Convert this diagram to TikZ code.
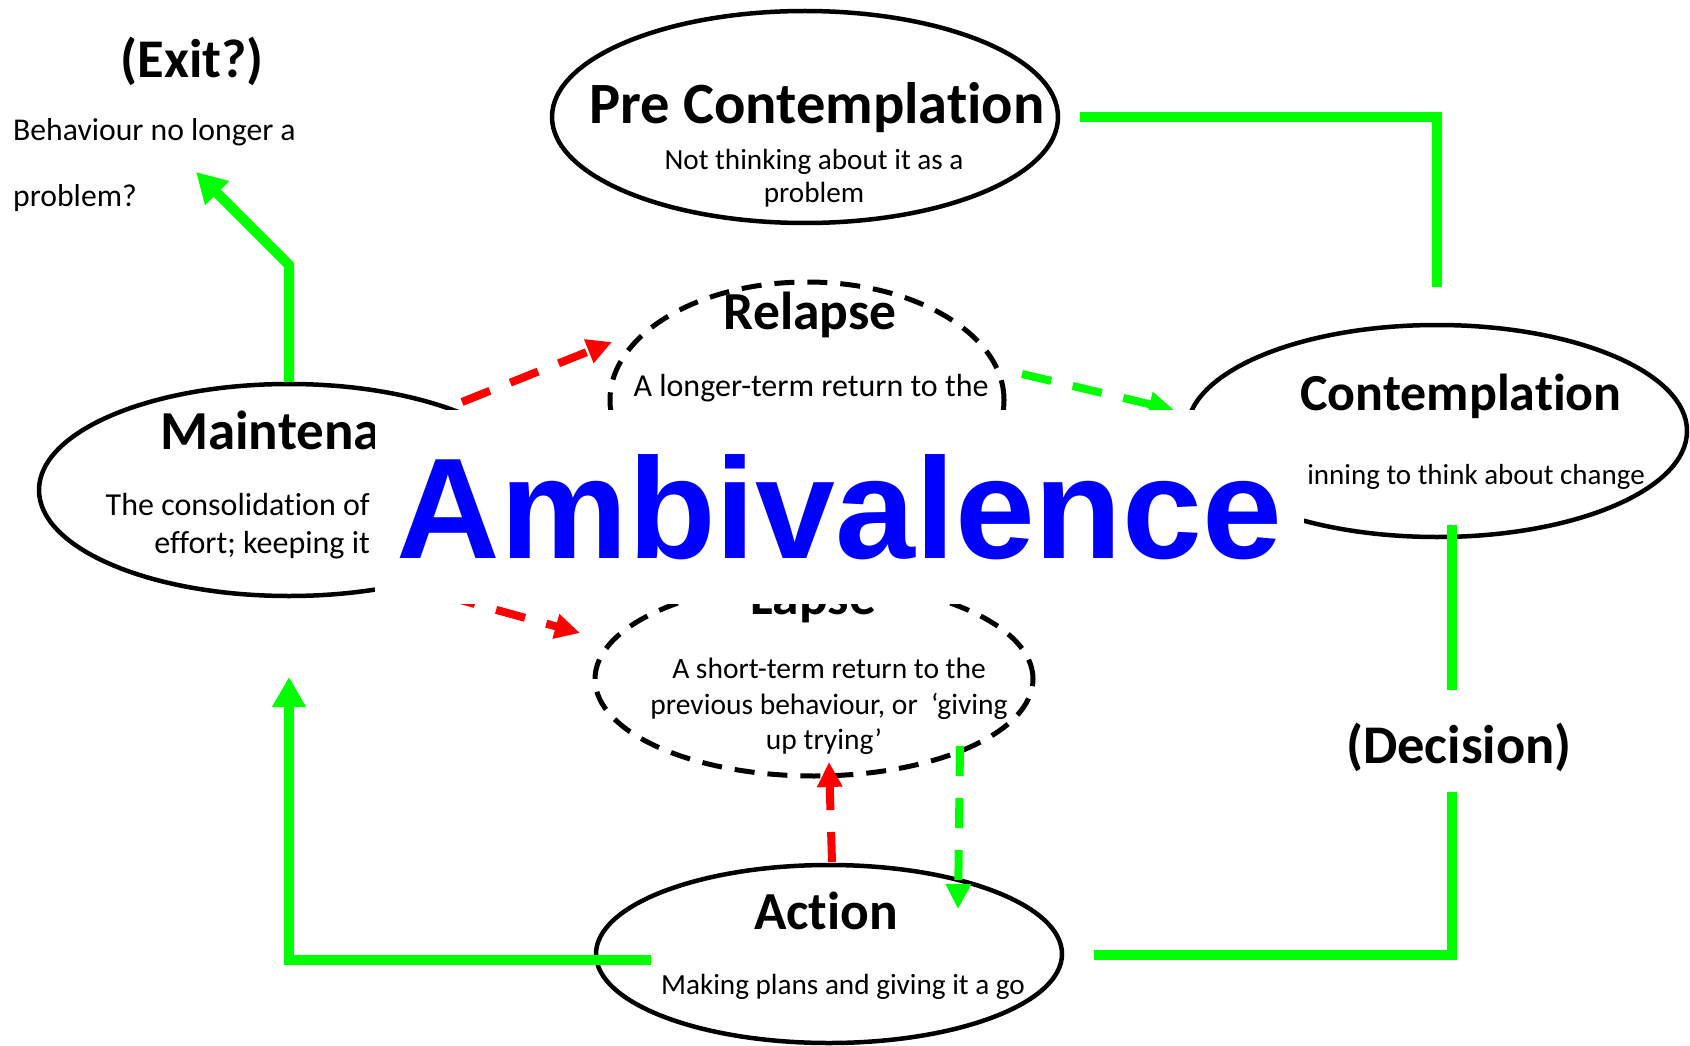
\documentclass[tikz,border=0pt]{standalone}
\usepackage{fontspec}
\setmainfont{Carlito}[Ligatures=NoCommon]
\newfontfamily\arialf{Liberation Sans}
\usetikzlibrary{shapes.geometric,arrows.meta,calc}
\definecolor{grn}{RGB}{0,255,0}
\definecolor{rd}{RGB}{255,0,0}
\definecolor{blu}{RGB}{0,0,255}
\newcommand{\fsz}[1]{\fontsize{#1}{#1}\selectfont}
\tikzset{
  stage/.style={draw, ellipse, line width=4.5pt, inner sep=0pt},
  dstage/.style={stage, line width=5pt, dash pattern=on 20pt off 13pt},
  txt/.style={inner sep=0pt, anchor=base},
  ttl/.style={txt, font=\fsz{53.5}\bfseries},
  body/.style={txt, font=\fsz{29.2}},
  greenline/.style={draw=grn, line width=10pt},
  gtip/.style={-{Triangle[length=30pt,width=32pt]}},
  reddash/.style={draw=rd, line width=8pt, dash pattern=on 30pt off 22pt, -{Triangle[length=25pt,width=24pt]}},
  greendash/.style={draw=grn, line width=8pt, dash pattern=on 30pt off 22pt, -{Triangle[length=25pt,width=24pt]}}
}
\begin{document}
\begin{tikzpicture}[x=1pt,y=-1pt]
\fill[white] (0,0) rectangle (1690,1046);
\useasboundingbox (0,0) rectangle (1690,1046);

% stages
\node[stage, minimum width=506pt, minimum height=212pt] (pre) at (805,117) {};
\node[dstage, minimum width=394pt, minimum height=236pt] (rel) at (807,400) {};
\node[stage, minimum width=500pt, minimum height=212pt] (maint) at (289,490) {};
\node[stage, minimum width=500pt, minimum height=212pt] (cont) at (1437,431) {};
\node[dstage, minimum width=438pt, minimum height=194pt] (lapse) at (814,679) {};
\node[stage, minimum width=466pt, minimum height=178pt] (act) at (829,954) {};

% texts
\node[ttl, font=\fsz{54.5}\bfseries] (exit) at (192,78) {(Exit?)};
\node[txt, anchor=base west, font=\fsz{31.7}] (beh1) at (13,141) {Behaviour no longer a};
\node[txt, anchor=base west, font=\fsz{31.7}] (beh2) at (13,206) {problem?};

\node[ttl, font=\fsz{58.5}\bfseries] (pret) at (817,124) {Pre Contemplation};
\node[body] (prex1) at (814,169) {Not thinking about it as a};
\node[body] (prex2) at (814,203) {problem};

\node[ttl] (relt) at (810,329) {Relapse};
\node[body, font=\fsz{32}] (relx1) at (811,396) {A longer-term return to the};

\node[ttl, anchor=base west, font=\fsz{55}\bfseries] (maintt) at (160,449) {Maintenance};
\node[txt, anchor=base east, font=\fsz{32}] (maintx1) at (370,515) {The consolidation of};
\node[txt, anchor=base east, font=\fsz{32}] (maintx2) at (370,553) {effort; keeping it};

\node[ttl, font=\fsz{52}\bfseries] (contt) at (1461,410) {Contemplation};
\node[txt, anchor=base east, font=\fsz{29}] (contx) at (1645,484) {inning to think about change};

\node[ttl] (lapset) at (813,614) {Lapse};
\node[body, font=\fsz{29.5}] (lapx1) at (829,678) {A short-term return to the};
\node[body, font=\fsz{29.5}] (lapx2) at (829,714) {previous behaviour, or\ \ ‘giving};
\node[body, font=\fsz{29.5}] (lapx3) at (824,749) {up trying’};

\node[ttl] (actt) at (826,929) {Action};
\node[body] (actx) at (843,994) {Making plans and giving it a go};

\node[ttl, font=\fsz{54.5}\bfseries] (dec) at (1459,763) {(Decision)};

% coordinates
\coordinate (exitbend) at (289,265);
\coordinate (exittip) at (196,172);
\coordinate (ctop) at (1437,287);
\coordinate (dtop) at (1452,690);
\coordinate (dbot) at (1452,792);
\coordinate (mtip) at (289,677);
\coordinate (m2rs) at (462,402);
\coordinate (m2re) at (612,342);
\coordinate (r2cs) at (1022,374);
\coordinate (r2ce) at (1174,410);
\coordinate (m2ls) at (446,596);
\coordinate (m2le) at (580,633);
\coordinate (a2ls) at (832,862);
\coordinate (a2le) at (829,762);
\coordinate (l2as) at (960,746);
\coordinate (l2ae) at (958,909);

% solid green connectors
\draw[greenline, gtip] (maint.north) -- (exitbend) -- (exittip);
\draw[greenline] ($(pre.east)+(20,0)$) -| (ctop);
\draw[greenline] ($(dtop |- cont.south)+(0,-14)$) -- (dtop);
\draw[greenline] (dbot) |- ($(act.east)+(30,1)$);
\draw[greenline, gtip] ($(act.west)+(57,6)$) -| (mtip);

% dashed connectors
\draw[reddash] (m2rs) -- (m2re);
\draw[greendash] (r2cs) -- (r2ce);
\draw[reddash] (m2ls) -- (m2le);
\draw[reddash] (a2ls) -- (a2le);
\draw[greendash] (l2as) -- (l2ae);

% central label
\node[fill=white, inner sep=0pt, minimum width=929pt, minimum height=194pt,
      text=blu, font=\arialf\bfseries\fsz{143.5}] (amb) at (839.5,507) {Ambivalence};
\end{tikzpicture}
\end{document}
